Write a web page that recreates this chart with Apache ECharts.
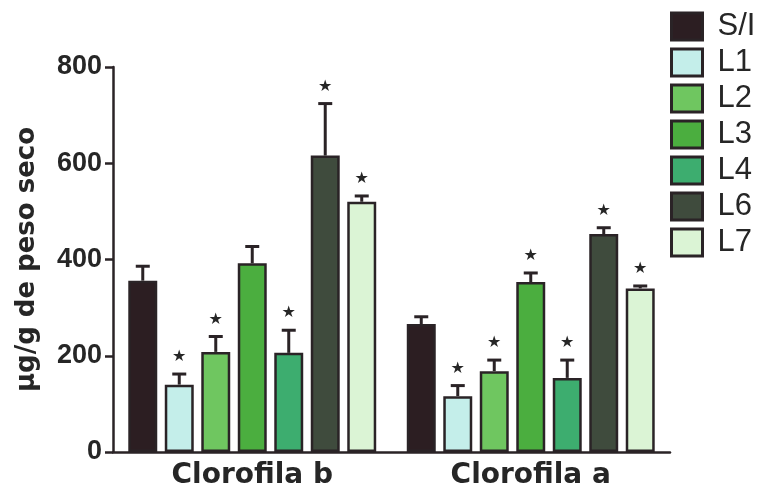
<!DOCTYPE html>
<html>
<head>
<meta charset="utf-8">
<script src="https://cdn.jsdelivr.net/npm/echarts@6/dist/echarts.min.js"></script>
<style>
  html, body { margin: 0; padding: 0; background: #fff; }
  #chart { width: 757px; height: 500px; }
</style>
</head>
<body>
<div id="chart"></div>
<script>
// Chlorophyll content (µg/g dry weight) per line, mean + SD
const categories = ['Clorofila b', 'Clorofila a'];
const seriesNames = ['S/I', 'L1', 'L2', 'L3', 'L4', 'L6', 'L7'];

const meanSI = [356, 266];
const meanL1 = [140, 116];
const meanL2 = [208, 168];
const meanL3 = [392, 353];
const meanL4 = [206, 154];
const meanL6 = [616, 453];
const meanL7 = [520, 340];

const sdSI = [30, 15];
const sdL1 = [22, 22];
const sdL2 = [32, 23];
const sdL3 = [35, 19];
const sdL4 = [47, 37];
const sdL6 = [108, 13];
const sdL7 = [12, 5];

// significance marks (1 = star drawn above the error bar)
const sigSI = [0, 0];
const sigL1 = [1, 1];
const sigL2 = [1, 1];
const sigL3 = [0, 1];
const sigL4 = [1, 1];
const sigL6 = [1, 1];
const sigL7 = [1, 1];

const yTicks = [0, 200, 400, 600, 800];

const means = [meanSI, meanL1, meanL2, meanL3, meanL4, meanL6, meanL7];
const sds = [sdSI, sdL1, sdL2, sdL3, sdL4, sdL6, sdL7];
const sigs = [sigSI, sigL1, sigL2, sigL3, sigL4, sigL6, sigL7];
const colors = ['#2c1e22', '#c4eeea', '#6fc660', '#4bae3f', '#3dad6f', '#3f4b3d', '#dbf4d5'];

const BAR_FRAC = 0.104;   // bar width as a share of the category band
const GAP_FRAC = 0.26;    // gap between bars as a share of bar width
const EDGE = '#2a2326';
const INK = '#262626';

const barSeries = seriesNames.map((name, i) => ({
  name: name,
  type: 'bar',
  data: means[i],
  barWidth: (BAR_FRAC * 100) + '%',
  barGap: (GAP_FRAC * 100) + '%',
  itemStyle: { color: colors[i], borderColor: EDGE, borderWidth: 2.5 },
  emphasis: { disabled: true },
  z: 2
}));

// rows: [categoryIndex, seriesIndex, mean, sd, significant]
const errRows = [];
means.forEach((m, s) => {
  m.forEach((v, c) => errRows.push([c, s, v, sds[s][c], sigs[s][c]]));
});

const errorSeries = {
  type: 'custom',
  data: errRows,
  z: 1,
  silent: true,
  renderItem: function (params, api) {
    const c = api.value(0), s = api.value(1);
    const mean = api.value(2), sd = api.value(3), sig = api.value(4);
    const band = api.size([1, 0])[0];
    const bw = band * BAR_FRAC;
    const step = bw * (1 + GAP_FRAC);
    const base = api.coord([c, mean]);
    const top = api.coord([c, mean + sd]);
    const x = base[0] + (s - (seriesNames.length - 1) / 2) * step;
    const capHalf = 7;
    const children = [
      { type: 'line', shape: { x1: x, y1: base[1], x2: x, y2: top[1] },
        style: { stroke: EDGE, lineWidth: 3 } },
      { type: 'line', shape: { x1: x - capHalf, y1: top[1], x2: x + capHalf, y2: top[1] },
        style: { stroke: EDGE, lineWidth: 3 } }
    ];
    if (sig) {
      children.push({
        type: 'text',
        style: {
          x: x, y: top[1] - 17,
          text: '★',
          fill: INK,
          font: '16px "DejaVu Sans", sans-serif',
          align: 'center', verticalAlign: 'middle'
        }
      });
    }
    return { type: 'group', children: children };
  }
};

const chart = echarts.init(document.getElementById('chart'), null, { renderer: 'canvas' });
chart.setOption({
  animation: false,
  backgroundColor: '#ffffff',
  grid: { left: 113, right: 87, top: 67, bottom: 48 },
  legend: {
    orient: 'vertical',
    left: 665,
    top: 6,
    itemWidth: 31,
    itemHeight: 27,
    itemGap: 5,
    icon: 'rect',
    selectedMode: false,
    data: seriesNames,
    itemStyle: { borderWidth: 3, borderColor: EDGE },
    textStyle: {
      fontFamily: '"Liberation Sans", Arial, sans-serif',
      fontSize: 31,
      color: INK,
      lineHeight: 27,
      padding: [0, 0, 0, 10]
    }
  },
  xAxis: {
    type: 'category',
    data: categories,
    axisLine: { lineStyle: { color: EDGE, width: 2.5 } },
    axisTick: { alignWithLabel: true, length: 8, lineStyle: { color: EDGE, width: 2.5 } },
    axisLabel: {
      margin: 10,
      color: INK,
      fontFamily: '"DejaVu Sans", sans-serif',
      fontWeight: 'bold',
      fontSize: 28
    }
  },
  yAxis: {
    type: 'value',
    min: yTicks[0],
    max: yTicks[yTicks.length - 1],
    interval: yTicks[1] - yTicks[0],
    name: 'µg/g de peso seco',
    nameLocation: 'middle',
    nameRotate: 90,
    nameGap: 73,
    nameTextStyle: {
      color: INK,
      fontFamily: '"DejaVu Sans", sans-serif',
      fontWeight: 'bold',
      fontSize: 26
    },
    axisLine: { show: true, lineStyle: { color: EDGE, width: 2.5 } },
    axisTick: { show: true, length: 8, lineStyle: { color: EDGE, width: 2.5 } },
    splitLine: { show: false },
    axisLabel: {
      margin: 11,
      color: INK,
      fontFamily: '"Liberation Sans", Arial, sans-serif',
      fontWeight: 'bold',
      fontSize: 27
    }
  },
  series: barSeries.concat([errorSeries])
});
</script>
</body>
</html>
